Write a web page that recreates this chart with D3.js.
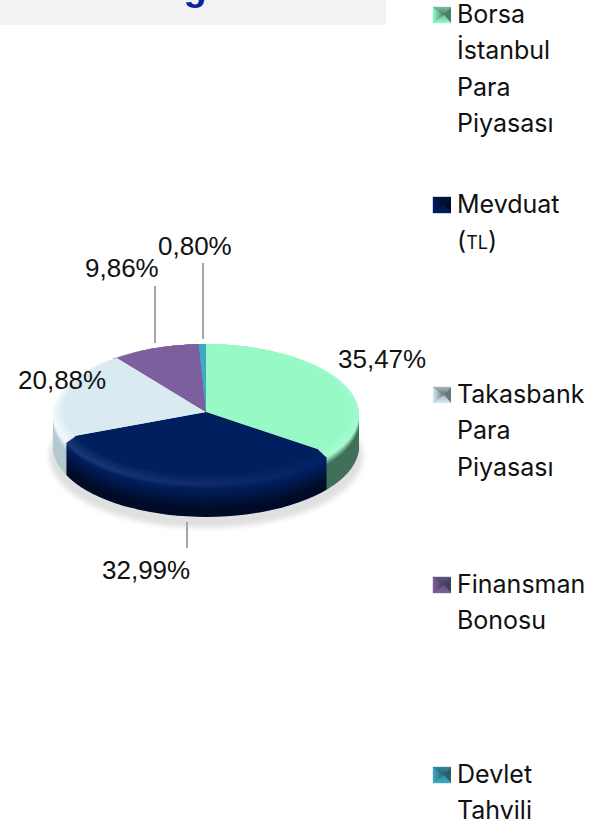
<!DOCTYPE html>
<html><head><meta charset="utf-8">
<script src="https://cdn.jsdelivr.net/npm/d3@7"></script>
<style>html,body{margin:0;padding:0;background:#fff;overflow:hidden}svg{display:block}</style>
</head><body><svg id="c" width="607" height="826"></svg>
<script>
const categories = ["Borsa İstanbul Para Piyasası","Mevduat (TL)","Takasbank Para Piyasası","Finansman Bonosu","Devlet Tahvili"];
const values = [35.47,32.99,20.88,9.86,0.80];
const valueLabels = ["35,47%","32,99%","20,88%","9,86%","0,80%"];
const legendLines = [["Borsa","İstanbul","Para","Piyasası"],["Mevduat","(TL)"],["Takasbank","Para","Piyasası"],["Finansman","Bonosu"],["Devlet","Tahvili"]];
const faceColors = ["#96f9c6","#001f5f","#d9eaf1","#7e5f9e","#3fa9c5"];
const wallColors = ["#40705a","#000b28","#b4c8cf","#4f3a66","#25687a"];

const svg = d3.select("#c"), defs = svg.append("defs");
const W = 153, K = 0.46, cx = 206, cyTop = 409.5, apexY = 412;
const bevelZ = 5, wallZ = 37, r0 = 0.93;
const LEGEND_FONT = "Inter, sans-serif", LEGEND_SIZE = 25;

// title band
svg.append("rect").attr("width",386).attr("height",25).attr("fill","#f2f2f2");
svg.append("text").attr("x",195).attr("y",0).attr("text-anchor","middle")
   .attr("font-family","'Liberation Sans',sans-serif").attr("font-weight",700).attr("font-size",38)
   .attr("fill","#0a22a6").text("g");

// shadow
const blur = defs.append("filter").attr("id","blur").attr("x","-20%").attr("y","-20%").attr("width","140%").attr("height","140%");
blur.append("feGaussianBlur").attr("stdDeviation",2.5);
svg.append("ellipse").attr("cx",cx).attr("cy",456).attr("rx",157).attr("ry",72)
   .attr("fill","#e0e0e0").attr("filter","url(#blur)");

const arcs = d3.pie().sort(null).startAngle(0).endAngle(2*Math.PI)(values);
const radius = d3.scaleLinear().domain([0,bevelZ,wallZ]).range([r0*W,W,W]);
function slicePath(a,z){
  const r = radius(z), ry = r*K, cy = cyTop+z;
  const px = t => cx + r*Math.sin(t), py = t => cy - ry*Math.cos(t);
  const large = a.endAngle-a.startAngle > Math.PI ? 1 : 0;
  return `M${cx},${apexY+z}L${px(a.startAngle)},${py(a.startAngle)}A${r},${ry} 0 ${large} 1 ${px(a.endAngle)},${py(a.endAngle)}Z`;
}
function tone(i,z,side){ // side -1 left, +1 right
  const base = faceColors[i], wall = wallColors[i];
  const hi = d3.interpolateRgb(base,"#ffffff");
  const peak = side<0 ? hi(i===1?0.12:0.7) : hi(i===1?0.0:0.1);
  if(z<=bevelZ) return d3.interpolateRgb(base,peak)(z/bevelZ);
  if(i===1){
    if(z<=9) return d3.interpolateRgb(peak,base)((z-bevelZ)/4);
    return d3.interpolateRgb(base,wall)(Math.min(1,(z-9)/20));
  }
  return d3.interpolateRgb(peak,wall)(Math.min(1,(z-bevelZ)/8));
}
const zs = d3.range(wallZ,bevelZ,-1).concat(d3.range(bevelZ,0,-0.5));
const pie = svg.append("g");
zs.forEach((z,zi)=>{
  arcs.forEach((a,i)=>{
    const id = `g${zi}_${i}`;
    const g = defs.append("linearGradient").attr("id",id).attr("gradientUnits","userSpaceOnUse")
      .attr("x1",cx-W).attr("x2",cx+W).attr("y1",0).attr("y2",0);
    g.append("stop").attr("offset",0).attr("stop-color",tone(i,z,-1));
    g.append("stop").attr("offset",1).attr("stop-color",tone(i,z,1));
    pie.append("path").attr("d",slicePath(a,z)).attr("fill",`url(#${id})`);
  });
});
pie.selectAll(".face").data(arcs).join("path").attr("d",a=>slicePath(a,0)).attr("fill",(a,i)=>faceColors[i]);

// leader lines
const leaders = [[187,522,548],[155,286,343],[203,263,339]];
svg.selectAll(".ld").data(leaders).join("line")
  .attr("x1",d=>d[0]).attr("x2",d=>d[0]).attr("y1",d=>d[1]).attr("y2",d=>d[2])
  .attr("stroke","#a6a6a6").attr("stroke-width",2);

// value labels
const labelPos = [[338,368],[102,579],[18,389],[85,277],[158,255]];
svg.selectAll(".vl").data(valueLabels).join("text")
  .attr("x",(d,i)=>labelPos[i][0]).attr("y",(d,i)=>labelPos[i][1])
  .attr("font-family","'Liberation Sans',Arial,sans-serif").attr("font-size",26).attr("fill","#111").text(d=>d);

// legend
const legendY = d3.scaleLinear().domain([0,4]).range([7,767]);
const lg = svg.selectAll(".lg").data(categories).join("g").attr("transform",(d,i)=>`translate(433,${legendY(i)})`);
function grad(id,c0,c1,x2,y2){
  const g = defs.append("linearGradient").attr("id",id).attr("x1",x2<0?1:0).attr("y1",y2<0?1:0).attr("x2",x2<0?0:x2).attr("y2",y2<0?0:y2);
  g.append("stop").attr("offset",0).attr("stop-color",c0);
  g.append("stop").attr("offset",1).attr("stop-color",c1);
}
lg.each(function(d,i){
  const g = d3.select(this), b = faceColors[i];
  const dark = d3.interpolateRgb(b, i===1?"#000000":"#1a2a2a")(0.6), mid = d3.interpolateRgb(b,dark)(0.45);
  grad(`sl${i}`,b,dark,1,0); grad(`st${i}`,mid,dark,0,1); grad(`sb${i}`,b,mid,0,-1);
  const w=18,h=16,mx=11,my=8;
  g.append("rect").attr("width",w).attr("height",h).attr("fill",dark);
  const tri = [[`0,0 ${mx},${my} 0,${h}`,`url(#sl${i})`],[`0,0 ${w},0 ${mx},${my}`,`url(#st${i})`],
               [`0,${h} ${w},${h} ${mx},${my}`,`url(#sb${i})`]];
  tri.forEach(t=>g.append("polygon").attr("points",t[0]).attr("fill",t[1]).attr("stroke",t[1]).attr("stroke-width",0.4));
  const lines = legendLines[i];
  lines.forEach((s,j)=>{
    const t = g.append("text").attr("x",24).attr("y",15.5+j*36.5).attr("font-family",LEGEND_FONT)
      .attr("font-size",LEGEND_SIZE).attr("fill","#111");
    if(s==="(TL)"){ t.append("tspan").text("("); t.append("tspan").attr("font-size",18).text("TL"); t.append("tspan").text(")"); }
    else t.text(s);
  });
});
</script></body></html>
